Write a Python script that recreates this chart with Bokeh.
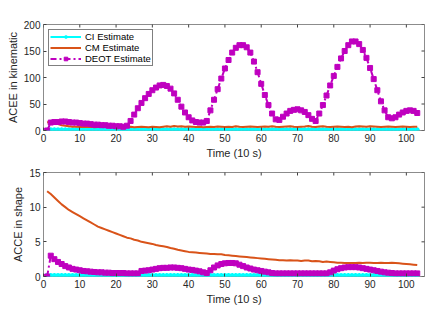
import math
from bokeh.plotting import figure
from bokeh.layouts import column
from bokeh.models import Range1d, FixedTicker, Legend
from bokeh.embed import file_html
from bokeh.resources import INLINE

t = list(range(1, 104))

ci_kin = [0.5] + [1.5] * 102
cm_kin = [15, 17, 14, 12, 10, 9, 8, 7, 7, 6.5, 7, 6.5, 7, 6, 6.5, 7, 6.5, 6, 7, 6.5,
          6, 7, 6.5, 7, 6, 6.5, 7, 6.5, 6, 7, 6.5, 6, 7, 8, 7, 8.5, 7.5, 8, 7, 7.5,
          7, 6.5, 7, 6, 6.5, 7, 6.5, 7.5, 7, 6.5, 7, 6.5, 8, 7, 6.5, 7, 7.5, 7, 6.5, 7,
          7.5, 7, 8, 7, 6.5, 7, 7.5, 8, 7, 6.5, 7, 7.5, 8.5, 7, 6.5, 7.5, 8, 7, 6.5, 7,
          7.5, 7, 6.5, 7, 6, 7.5, 8, 7.5, 7, 8, 7.5, 7, 6.5, 7, 7.5, 7, 6.5, 7, 7.5, 7,
          6.5, 7, 7]
deot_kin = [0, 15, 16, 16, 17, 17, 16, 15, 15, 14, 13, 13, 12, 11, 11, 10, 10, 9, 9, 8,
            8, 7, 9, 18, 30, 42, 52, 61, 69, 76, 81, 85, 86, 84, 79, 70, 58, 45, 34, 25,
            19, 16, 15, 15, 18, 38, 58, 78, 98, 117, 133, 147, 156, 161, 161, 157, 147, 130, 110, 88,
            67, 48, 32, 21, 20, 26, 32, 37, 39, 40, 38, 35, 29, 22, 18, 32, 48, 66, 85, 103,
            120, 136, 150, 161, 168, 168, 163, 152, 137, 118, 97, 76, 55, 38, 25, 23, 25, 30, 34, 37,
            38, 37, 33]

ci_shape = [0.15] * 103
cm_shape = [12.3, 11.9, 11.4, 10.9, 10.4, 10.0, 9.6, 9.3, 9.0, 8.7, 8.4, 8.1, 7.8, 7.5, 7.2, 7.0, 6.8, 6.6, 6.4, 6.2,
            6.0, 5.8, 5.6, 5.5, 5.3, 5.2, 5.0, 4.9, 4.8, 4.7, 4.55, 4.45, 4.35, 4.25, 4.1, 4.0, 3.85, 3.75, 3.65, 3.55,
            3.5, 3.45, 3.4, 3.35, 3.3, 3.25, 3.25, 3.2, 3.2, 3.1, 3.05, 3.0, 2.95, 2.9, 2.85, 2.8, 2.75, 2.7, 2.65, 2.6,
            2.55, 2.5, 2.45, 2.4, 2.35, 2.35, 2.3, 2.35, 2.3, 2.3, 2.25, 2.3, 2.3, 2.2, 2.25, 2.2, 2.1, 2.15, 2.1, 2.05,
            2.0, 2.0, 1.95, 1.95, 1.95, 1.95, 2.0, 1.95, 2.0, 2.0, 1.95, 1.95, 2.0, 1.95, 1.95, 2.0, 1.95, 1.9, 1.85, 1.8,
            1.75, 1.7, 1.65]
deot_shape = [0, 3.0, 2.5, 2.1, 1.8, 1.5, 1.3, 1.1, 1.0, 0.9, 0.8, 0.75, 0.7, 0.65, 0.6, 0.6, 0.55, 0.55, 0.5, 0.5,
              0.5, 0.5, 0.45, 0.45, 0.45, 0.45, 0.8, 0.85, 0.9, 1.0, 1.1, 1.2, 1.25, 1.25, 1.3, 1.3, 1.25, 1.2, 1.1, 1.0,
              0.95, 0.85, 0.75, 0.6, 0.5, 0.9, 1.3, 1.6, 1.8, 1.9, 1.95, 1.95, 1.9, 1.7, 1.5, 1.3, 1.15, 1.0, 0.9, 0.8,
              0.7, 0.6, 0.5, 0.45, 0.45, 0.45, 0.45, 0.45, 0.45, 0.45, 0.45, 0.45, 0.45, 0.45, 0.45, 0.45, 0.45, 0.45, 0.6, 0.85,
              1.05, 1.2, 1.3, 1.35, 1.35, 1.35, 1.3, 1.2, 1.1, 1.0, 0.9, 0.8, 0.7, 0.6, 0.55, 0.5, 0.45, 0.45, 0.45, 0.45,
              0.45, 0.45, 0.45]

x_ticks = [0, 10, 20, 30, 40, 50, 60, 70, 80, 90, 100]
x_max = 105
kin_ticks = [0, 50, 100, 150, 200]
shape_ticks = [0, 5, 10, 15]

CYAN = "#00FFFF"
ORANGE = "#D95319"
MAGENTA = "#BF00BF"
AXC = "#404040"
FONT = "Liberation Sans"


def style_axis(ax, ticks):
    ax.ticker = FixedTicker(ticks=ticks)
    ax.major_tick_in = 3
    ax.major_tick_out = 0
    ax.minor_tick_line_color = None
    ax.axis_line_color = None
    ax.major_tick_line_color = AXC
    ax.major_label_text_color = "#262626"
    ax.major_label_text_font = FONT
    ax.major_label_text_font_size = "10px"
    ax.major_label_standoff = 3
    ax.axis_label_text_font = FONT
    ax.axis_label_text_font_size = "11px"
    ax.axis_label_text_font_style = "normal"
    ax.axis_label_text_color = "#262626"
    ax.axis_label_standoff = 2


def make_fig(height, top, bottom, yticks, ylabel):
    ymax = max(yticks)
    p = figure(width=435, height=height, output_backend="svg", toolbar_location=None,
               x_range=Range1d(0, x_max), y_range=Range1d(0, ymax),
               min_border_left=43, min_border_right=11, min_border_top=top, min_border_bottom=bottom)
    p.grid.visible = False
    p.outline_line_color = "#8c8c8c"
    p.outline_line_width = 1
    p.background_fill_color = "white"
    p.border_fill_color = "white"
    style_axis(p.xaxis[0], x_ticks)
    style_axis(p.yaxis[0], yticks)
    p.xaxis[0].axis_label = "Time (10 s)"
    p.yaxis[0].axis_label = ylabel
    # MATLAB-style mirrored ticks on the top and right edges
    p.scatter(x_ticks, [ymax] * len(x_ticks), marker="dash", angle=math.pi / 2,
              size=6, line_color=AXC, line_width=1)
    p.scatter([x_max] * len(yticks), yticks, marker="dash",
              size=6, line_color=AXC, line_width=1)
    return p


p1 = make_fig(166, 24, 36, kin_ticks, "ACEE in kinematic")
r_ci_l = p1.line(t, ci_kin, color=CYAN, line_width=2)
r_ci_m = p1.scatter(t, ci_kin, marker="asterisk", color=CYAN, size=5, line_width=1.5)
r_cm = p1.line(t, cm_kin, color=ORANGE, line_width=2)
r_de_l = p1.line(t, deot_kin, color=MAGENTA, line_width=2, line_dash="6 3 2 3")
r_de_m = p1.scatter(t, deot_kin, marker="square", color=MAGENTA, size=5)

legend = Legend(items=[("CI Estimate", [r_ci_l, r_ci_m]),
                       ("CM Estimate", [r_cm]),
                       ("DEOT Estimate", [r_de_l, r_de_m])],
                location="top_left")
legend.label_text_font = FONT
legend.label_text_font_size = "9.5px"
legend.label_text_color = "#000000"
legend.label_height = 9
legend.glyph_height = 9
legend.glyph_width = 31
legend.spacing = 0
legend.padding = 1
legend.margin = 5
legend.label_standoff = 4
legend.border_line_color = "#000000"
legend.border_line_width = 1
legend.background_fill_alpha = 1
p1.add_layout(legend)

p2 = make_fig(141, 6, 30, shape_ticks, "ACCE in shape")
p2.line(t, ci_shape, color=CYAN, line_width=2)
p2.scatter(t, ci_shape, marker="asterisk", color=CYAN, size=5, line_width=1.5)
p2.line(t, cm_shape, color=ORANGE, line_width=2)
p2.line(t, deot_shape, color=MAGENTA, line_width=2, line_dash="6 3 2 3")
p2.scatter(t, deot_shape, marker="square", color=MAGENTA, size=5)

layout = column(p1, p2, spacing=0)
open("out.html", "w").write(file_html(layout, INLINE))
